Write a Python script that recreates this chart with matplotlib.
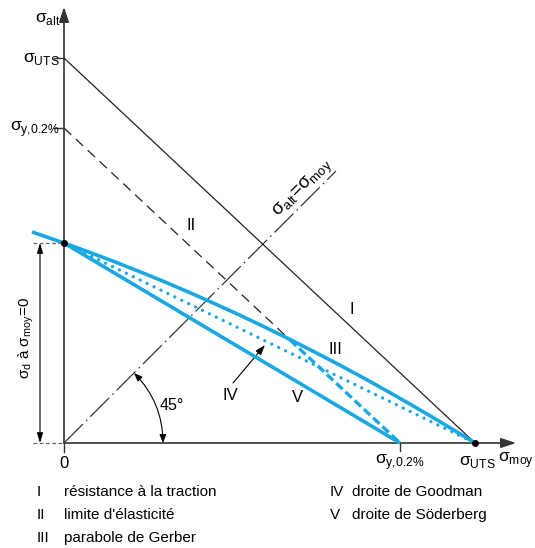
"""
Diagramme de Haigh (résistance à la fatigue) — recréation matplotlib.
Unités : 1 unité = 1 pixel de l'image, origine au croisement des axes.
"""
import matplotlib
matplotlib.use('Agg')
import matplotlib.pyplot as plt
from matplotlib.patches import FancyArrowPatch

plt.rcParams['font.family'] = ['Liberation Sans', 'DejaVu Sans']

# ── valeurs ──────────────────────────────────────────────────────────────────
SIG_UTS_X = 411     # σ_UTS sur l'axe σ_moy
SIG_UTS_Y = 385     # σ_UTS sur l'axe σ_alt
SIG_Y_X   = 336     # σ_y,0.2% sur l'axe σ_moy
SIG_Y_Y   = 315     # σ_y,0.2% sur l'axe σ_alt
SIG_D     = 200     # σ_d à σ_moy = 0
II_GERBER_X = 226   # fin du trait II (croisement avec la parabole de Gerber)

gerber_moy = [-32, 0, 25, 50, 75, 100, 125, 150, 175, 200, 225, 250,
              275, 300, 325, 350, 375, 400, 411]
gerber_alt = [211, 200, 190.9, 181.5, 171.6, 161.4, 150.7, 139.6, 128.2, 116.3,
              104.0, 91.3, 78.3, 64.8, 50.9, 36.6, 21.9, 6.8, 0]

diag_end = 272      # fin de la droite σ_alt = σ_moy
arc_r = 99          # rayon de la cote 45°

legend_left  = [('I', 'résistance à la traction'),
                ('II', "limite d'élasticité"),
                ('III', 'parabole de Gerber')]
legend_right = [('IV', 'droite de Goodman'),
                ('V', 'droite de Söderberg')]

BLUE = '#1aa8e3'
DARK = '#333333'
FS_SIG = 12.5

fig = plt.figure(figsize=(5.35, 5.48), dpi=100)
ax = fig.add_axes([0, 0, 1, 1])
ax.set_xlim(-64, 471)
ax.set_ylim(-105, 443)
ax.set_aspect('equal')
ax.axis('off')

# ── axes ─────────────────────────────────────────────────────────────────────
arw = dict(arrowstyle='-|>,head_length=0.9,head_width=0.3', lw=1.2, color=DARK,
           shrinkA=0, shrinkB=0)
ax.annotate('', xy=(0, 436), xytext=(0, 0), arrowprops=arw)
ax.annotate('', xy=(452, 0), xytext=(0, 0), arrowprops=arw)

# graduations
for yv in (SIG_UTS_Y, SIG_Y_Y):
    ax.plot([-10, 0], [yv, yv], color=DARK, lw=1.0)
ax.plot([0, 0], [0, -9], color=DARK, lw=1.0)
ax.plot([SIG_Y_X, SIG_Y_X], [0, -8], color=DARK, lw=1.0)

# ── droites I et II ──────────────────────────────────────────────────────────
ax.plot([0, SIG_UTS_X], [SIG_UTS_Y, 0], color='#222222', lw=0.9)
ii_y = SIG_Y_Y * (1 - II_GERBER_X / SIG_Y_X)
ax.plot([0, II_GERBER_X], [SIG_Y_Y, ii_y], color='#222222', lw=0.9,
        linestyle=(0, (8, 5)))

# droite σ_alt = σ_moy
ax.plot([0, diag_end], [0, diag_end], color='#222222', lw=0.8,
        linestyle=(0, (24, 4, 1.5, 4)))

# ── courbes bleues ───────────────────────────────────────────────────────────
ax.plot(gerber_moy, gerber_alt, color=BLUE, lw=2.6, solid_capstyle='butt', zorder=4)
ax.plot([0, SIG_UTS_X], [SIG_D, 0], color=BLUE, lw=2.4,
        linestyle=(0, (0.01, 2.3)), dash_capstyle='round', zorder=4)
ax.plot([0, SIG_Y_X], [SIG_D, 0], color=BLUE, lw=2.6, solid_capstyle='butt', zorder=4)
ax.plot([II_GERBER_X, SIG_Y_X], [ii_y, 0], color=BLUE, lw=2.4,
        linestyle=(0, (2.6, 1.2)), zorder=4)

ax.plot([0, SIG_UTS_X], [SIG_D, 0], 'o', color='black', ms=4, zorder=6)

# ── cote σ_d ─────────────────────────────────────────────────────────────────
for yv in (SIG_D, 0):
    ax.plot([-31, 0], [yv, yv], color='#666666', lw=0.9, linestyle=(0, (3, 2)))
ax.annotate('', xy=(-24, SIG_D), xytext=(-24, 0),
            arrowprops=dict(arrowstyle='<|-|>,head_length=0.6,head_width=0.18',
                            lw=0.8, color='black', shrinkA=0, shrinkB=0))
ax.text(-38, 105, 'σ$_\\mathregular{d}$ à σ$_\\mathregular{moy}$=0', rotation=90,
        ha='center', va='center', fontsize=11)

# ── cote 45° ─────────────────────────────────────────────────────────────────
ax.add_patch(FancyArrowPatch((arc_r, 0), (arc_r * 0.7071, arc_r * 0.7071),
                             connectionstyle='arc3,rad=0.2',
                             arrowstyle='<|-|>,head_length=5,head_width=2',
                             lw=0.8, color='black', shrinkA=0, shrinkB=0))
ax.text(108, 37, '45°', ha='center', va='center', fontsize=11.5)

# ── textes ───────────────────────────────────────────────────────────────────
ax.text(-3, 424, 'σ$_\\mathregular{alt}$', ha='right', va='center', fontsize=FS_SIG)
ax.text(-4, 384, 'σ$_\\mathregular{UTS}$', ha='right', va='center', fontsize=FS_SIG)
ax.text(-4, 314, 'σ$_\\mathregular{y{,}0.2\\%}$', ha='right', va='center', fontsize=FS_SIG)
ax.text(0, -21, '0', ha='center', va='center', fontsize=12)
ax.text(SIG_Y_X, -19, 'σ$_\\mathregular{y{,}0.2\\%}$', ha='center', va='center',
        fontsize=FS_SIG)
ax.text(SIG_UTS_X + 2, -19, 'σ$_\\mathregular{UTS}$', ha='center', va='center',
        fontsize=FS_SIG)
ax.text(434, -17, 'σ$_\\mathregular{moy}$', ha='left', va='center', fontsize=FS_SIG)

ax.text(214, 226, 'σ$_\\mathregular{alt}$=σ$_\\mathregular{moy}$', rotation=45,
        rotation_mode='anchor', ha='left', va='baseline', fontsize=13.5)

ax.text(288, 133, 'I', ha='center', va='center', fontsize=12)
ax.text(127, 217, 'II', ha='center', va='center', fontsize=12)
ax.text(271, 93, 'III', ha='center', va='center', fontsize=12)
ax.text(166, 48, 'IV', ha='center', va='center', fontsize=12)
ax.text(233, 45, 'V', ha='center', va='center', fontsize=12)
ax.annotate('', xy=(201, 98), xytext=(169, 60),
            arrowprops=dict(arrowstyle='-|>,head_length=0.6,head_width=0.2',
                            lw=0.8, color='black', shrinkA=0, shrinkB=0))

# ── légende ──────────────────────────────────────────────────────────────────
FS_LEG = 11
for i, (num, txt) in enumerate(legend_left):
    y = -49 - 23 * i
    ax.text(-27, y, num, ha='left', va='center', fontsize=FS_LEG)
    ax.text(0, y, txt, ha='left', va='center', fontsize=FS_LEG)
for i, (num, txt) in enumerate(legend_right):
    y = -49 - 23 * i
    ax.text(266, y, num, ha='left', va='center', fontsize=FS_LEG)
    ax.text(288, y, txt, ha='left', va='center', fontsize=FS_LEG)

fig.savefig('out.png', dpi=100, facecolor='white')
